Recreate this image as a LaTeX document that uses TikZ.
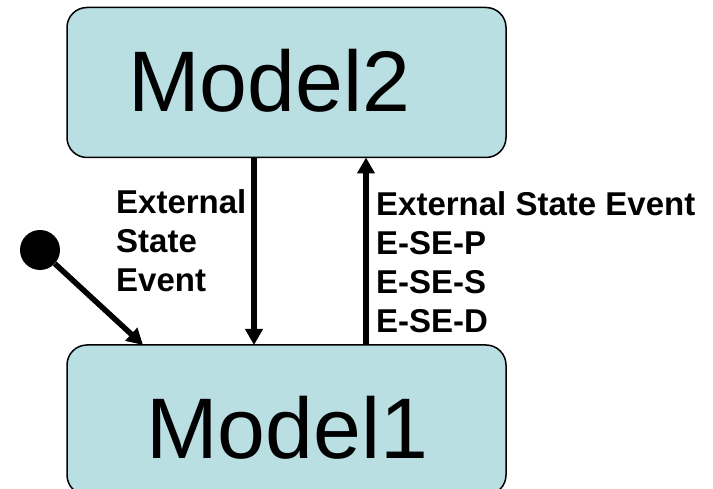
\documentclass[tikz,border=0pt]{standalone}
\usepackage{fontspec}
\setmainfont{Liberation Sans}
\usetikzlibrary{arrows.meta}
\definecolor{boxfill}{RGB}{185,223,227}
\begin{document}
\begin{tikzpicture}[x=1pt,y=-1pt,
  modelbox/.style={draw=black,line width=1.5pt,fill=boxfill,rounded corners=20pt,
    minimum width=439pt,minimum height=150pt,inner sep=0pt,outer sep=0pt},
  bigtext/.style={font=\fontsize{86}{86}\selectfont,inner sep=0pt,anchor=base west},
  lbl/.style={font=\fontsize{33}{39}\selectfont\bfseries,inner sep=0pt,align=left,anchor=north west},
  arr/.style={line width=5.5pt,-{Triangle[width=17pt,length=16pt]}}]
\useasboundingbox (0,0) rectangle (713,489);
\node[modelbox] (m2) at (286.5,82.5) {};
\node[modelbox] (m1) at (286.5,420) {};
\node[bigtext] (m2t) at (128,112) {Model2};
\node[bigtext] (m1t) at (146,458) {Model1};
\coordinate (dx) at (254,0);
\coordinate (ux) at (366,0);
\draw[arr] (m2.south -| dx) -- (m1.north -| dx);
\draw[arr] (m1.north -| ux) -- (m2.south -| ux);
\node[fill=black,circle,minimum size=40pt,inner sep=0pt] (init) at (40,250) {};
\coordinate (it) at (143,345);
\draw[arr] (init) -- (it);
\node[lbl] (l1) at (116,189) {External\\State\\Event};
\node[lbl] (l2) at (376,191) {External State Event\\E-SE-P\\E-SE-S\\E-SE-D};
\end{tikzpicture}
\end{document}
